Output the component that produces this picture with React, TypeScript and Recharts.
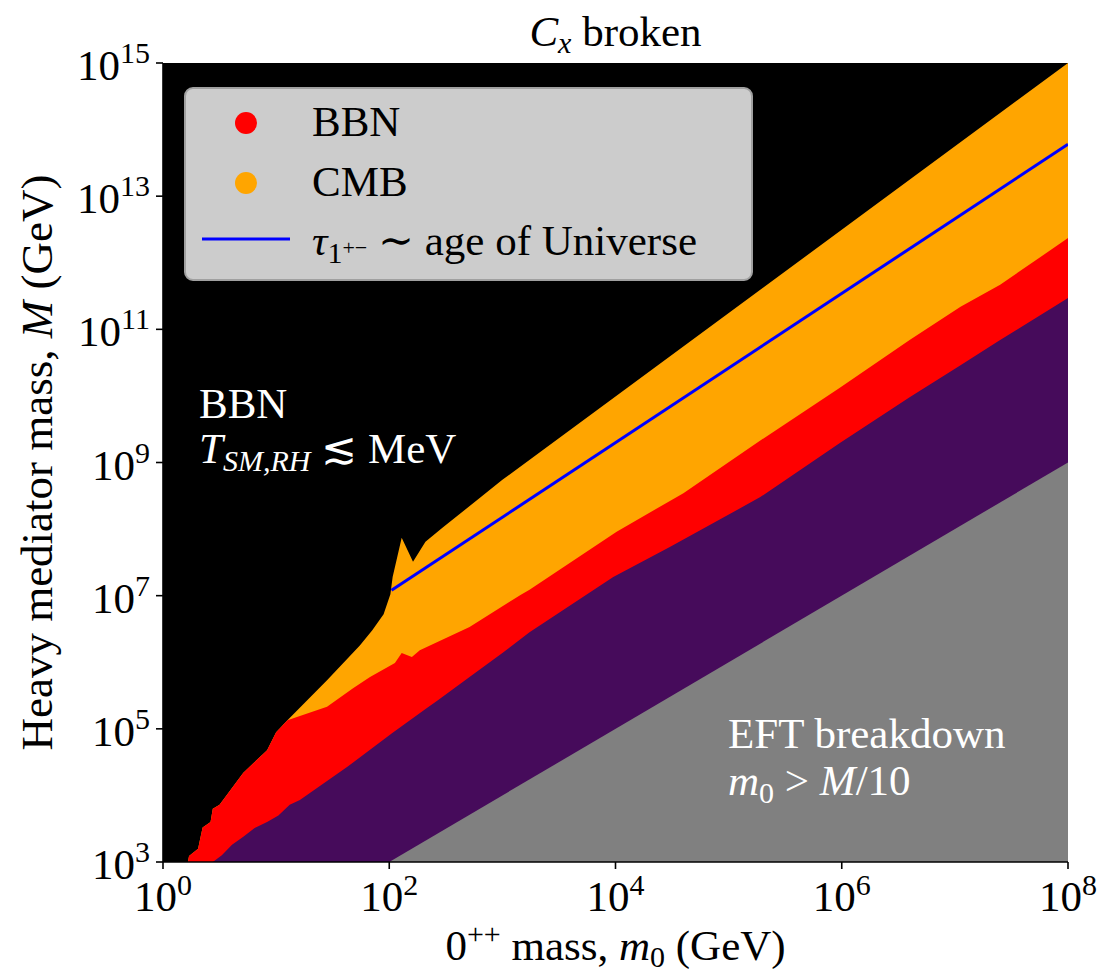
import React from 'react';
import { ComposedChart, Area, Line, XAxis, YAxis } from 'recharts';

type Pt = [number, number];

// all coordinates are [log10(m0 / GeV), log10(M / GeV)]

// lower-left edge of the excluded region, shared by BBN and CMB
const lowMassEdge: Pt[] = [
  [0.22, 3.0], [0.23, 3.09], [0.31, 3.2], [0.35, 3.52], [0.42, 3.6],
  [0.44, 3.8], [0.5, 3.86], [0.71, 4.34], [0.92, 4.68], [1.0, 4.95], [1.1, 5.13],
];

// upper edge of the CMB region (black above it)
const cmbUpperEdge: Pt[] = [
  [1.45, 5.73], [1.74, 6.25], [1.85, 6.48], [1.95, 6.72], [2.01, 7.02],
  [2.03, 7.28], [2.11, 7.87], [2.21, 7.51], [2.32, 7.81], [2.47, 8.02],
  [2.78, 8.44], [3.0, 8.74], [8.0, 15.0],
];

// upper edge of the BBN region (CMB above it)
const bbnUpperEdge: Pt[] = [
  [1.45, 5.33], [1.68, 5.61], [1.83, 5.78], [2.05, 5.99], [2.11, 6.14],
  [2.2, 6.08], [2.27, 6.18], [2.71, 6.53], [3.16, 7.01], [3.24, 7.09],
  [4.01, 7.96], [4.6, 8.54], [5.28, 9.33], [5.98, 10.12], [6.6, 10.84],
  [7.05, 11.34], [7.4, 11.67], [8.0, 12.37],
];

// upper edge of the allowed (purple) region
const allowedUpperEdge: Pt[] = [
  [0.44, 3.0], [0.52, 3.1], [0.61, 3.26], [0.71, 3.38], [0.81, 3.51],
  [0.92, 3.6], [1.02, 3.7], [1.12, 3.86], [1.21, 3.93], [1.63, 4.43],
  [2.03, 4.94], [2.33, 5.31], [2.43, 5.43], [2.71, 5.78], [3.0, 6.14],
  [3.24, 6.45], [3.98, 7.28], [4.48, 7.73], [5.28, 8.48], [5.98, 9.29],
  [6.6, 9.98], [7.05, 10.46], [7.4, 10.84], [8.0, 11.47],
];

// m0 > M/10
const eftEdge: Pt[] = [[2, 3], [8, 9]];

// tau ~ age of Universe
const ageLine: Pt[] = [[2.02, 7.08], [8, 13.78]];

const plotCeiling: Pt[] = [[0, 15], [8, 15]];

const xTicks = [0, 2, 4, 6, 8];
const yTicks = [3, 5, 7, 9, 11, 13, 15];

const series: Record<string, Pt[]> = {
  ceiling: plotCeiling,
  cmb: [...lowMassEdge, ...cmbUpperEdge],
  bbn: [...lowMassEdge, ...bbnUpperEdge],
  allowed: allowedUpperEdge,
  eft: eftEdge,
  age: ageLine,
};

const rows = new Map<number, any>();
Object.entries(series).forEach(([key, pts]) => {
  pts.forEach(([x, y]) => {
    const row = rows.get(x) || { lx: x };
    row[key] = y;
    rows.set(x, row);
  });
});
const data = [...rows.values()].sort((a, b) => a.lx - b.lx);

const FONT = 'Liberation Serif, DejaVu Serif, serif';
const FS = 43;
const SUP = 30;

const XTick = ({ x, y, payload }: any) => (
  <text x={x} y={y + 42} textAnchor="middle" style={{ fontFamily: FONT }} fontSize={FS} fill="#000">
    10<tspan dy={-16} fontSize={SUP}>{payload.value}</tspan>
  </text>
);

const YTick = ({ x, y, payload }: any) => (
  <text x={x - 6} y={y + 17} textAnchor="end" style={{ fontFamily: FONT }} fontSize={FS} fill="#000">
    10<tspan dy={-17} fontSize={SUP}>{payload.value}</tspan>
  </text>
);

const XLabel = ({ viewBox }: any) => (
  <text x={viewBox.x + viewBox.width / 2} y={viewBox.y + 98} textAnchor="middle"
    style={{ fontFamily: FONT }} fontSize={FS} fill="#000">
    0<tspan dy={-16} fontSize={SUP}>++</tspan>
    <tspan dy={16}> mass, </tspan>
    <tspan fontStyle="italic">m</tspan>
    <tspan dy={7} fontSize={SUP}>0</tspan>
    <tspan dy={-7}> (GeV)</tspan>
  </text>
);

const YLabel = ({ viewBox }: any) => {
  const cx = 52;
  const cy = viewBox.y + viewBox.height / 2;
  return (
    <text x={cx} y={cy} transform={`rotate(-90 ${cx} ${cy})`} textAnchor="middle"
      style={{ fontFamily: FONT }} fontSize={45} fill="#000">
      Heavy mediator mass, <tspan fontStyle="italic">M</tspan> (GeV)
    </text>
  );
};

const axisStroke = { stroke: '#000', strokeWidth: 1.6 };

const Overlay = () => (
  <svg width={1099} height={977} style={{ position: 'absolute', left: 0, top: 0, pointerEvents: 'none', fontFamily: FONT }}
    fontSize={FS}>
    <text x={615.5} y={46} textAnchor="middle" fill="#000">
      <tspan fontStyle="italic">C</tspan>
      <tspan dy={7} fontSize={SUP} fontStyle="italic">x</tspan>
      <tspan dy={-7}> broken</tspan>
    </text>

    <text x={199} y={418} fill="#fff">BBN</text>
    <text x={199} y={463} fill="#fff">
      <tspan fontStyle="italic">T</tspan>
      <tspan dy={8} fontSize={SUP} fontStyle="italic">SM,RH</tspan>
      <tspan dy={-8}> ≲ MeV</tspan>
    </text>

    <text x={728} y={748} fill="#fff">EFT breakdown</text>
    <text x={728} y={795} fill="#fff">
      <tspan fontStyle="italic">m</tspan>
      <tspan dy={8} fontSize={SUP}>0</tspan>
      <tspan dy={-8}> &gt; </tspan>
      <tspan fontStyle="italic">M</tspan>/10
    </text>

    <rect x={185} y={88} width={567} height={192} rx={8} fill="#cccccc" stroke="#a0a0a0" strokeWidth={2} />
    <circle cx={246} cy={123} r={11} fill="#ff0000" />
    <text x={312} y={136} fill="#000">BBN</text>
    <circle cx={246} cy={183} r={11} fill="#ffa500" />
    <text x={312} y={196} fill="#000">CMB</text>
    <line x1={202} x2={290} y1={239} y2={239} stroke="#0000ff" strokeWidth={3} />
    <text x={312} y={255} fill="#000">
      <tspan fontStyle="italic">τ</tspan>
      <tspan dy={8} fontSize={SUP}>1</tspan>
      <tspan dy={-8} fontSize={22}>+−</tspan>
      <tspan dy={0}> ∼ age of Universe</tspan>
    </text>
  </svg>
);

export default function App() {
  return (
    <div style={{ position: 'absolute', left: 0, top: 0, width: 1099, height: 977, background: '#fff', fontFamily: FONT }}>
      <ComposedChart width={1099} height={977} data={data}
        margin={{ top: 63, right: 31, bottom: 0, left: 0 }}>
        <XAxis dataKey="lx" type="number" domain={[0, 8]} ticks={xTicks} interval={0}
          allowDataOverflow height={115} tickSize={7} tickMargin={0}
          axisLine={axisStroke} tickLine={axisStroke} tick={<XTick />}
          label={{ content: (p: any) => <XLabel {...p} /> }} />
        <YAxis type="number" domain={[3, 15]} ticks={yTicks} interval={0}
          allowDataOverflow width={163} tickSize={7} tickMargin={0}
          axisLine={axisStroke} tickLine={axisStroke} tick={<YTick />}
          label={{ content: (p: any) => <YLabel {...p} /> }} />
        <XAxis xAxisId="top" orientation="top" type="number" domain={[0, 8]} height={0}
          tick={false} tickLine={false} axisLine={axisStroke} />
        <YAxis yAxisId="right" orientation="right" type="number" domain={[3, 15]} width={0}
          tick={false} tickLine={false} axisLine={axisStroke} />

        <Area type="linear" dataKey="ceiling" fill="#000000" fillOpacity={1} stroke="none"
          baseValue={3} connectNulls isAnimationActive={false} dot={false} activeDot={false} />
        <Area type="linear" dataKey="cmb" fill="#ffa500" fillOpacity={1} stroke="none"
          baseValue={3} connectNulls isAnimationActive={false} dot={false} activeDot={false} />
        <Area type="linear" dataKey="bbn" fill="#ff0000" fillOpacity={1} stroke="none"
          baseValue={3} connectNulls isAnimationActive={false} dot={false} activeDot={false} />
        <Area type="linear" dataKey="allowed" fill="#460b5b" fillOpacity={1} stroke="none"
          baseValue={3} connectNulls isAnimationActive={false} dot={false} activeDot={false} />
        <Area type="linear" dataKey="eft" fill="#808080" fillOpacity={1} stroke="none"
          baseValue={3} connectNulls isAnimationActive={false} dot={false} activeDot={false} />
        <Line type="linear" dataKey="age" stroke="#0000ff" strokeWidth={3} dot={false}
          activeDot={false} connectNulls isAnimationActive={false} />
      </ComposedChart>
      <Overlay />
    </div>
  );
}
